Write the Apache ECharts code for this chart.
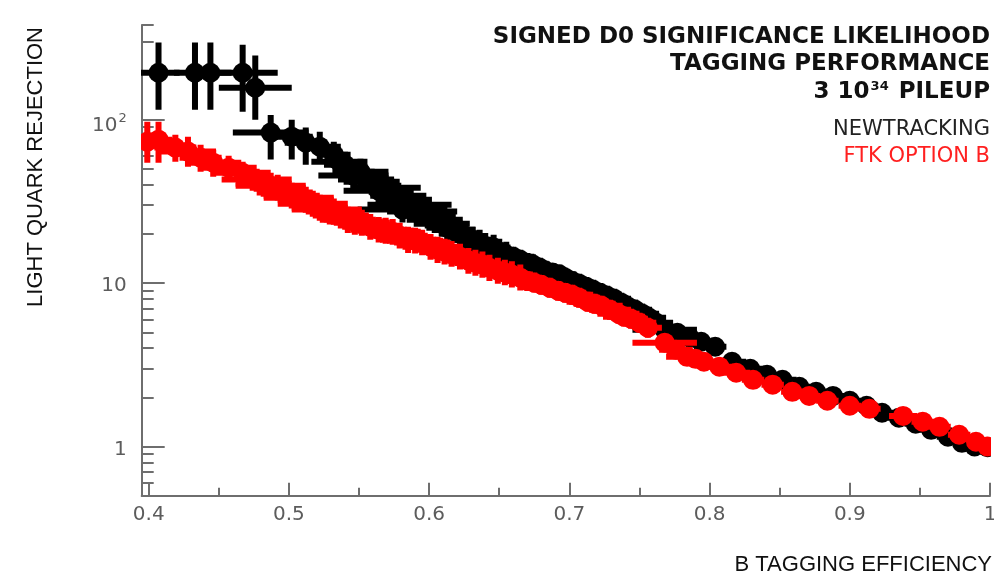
<!DOCTYPE html>
<html>
<head>
<meta charset="utf-8">
<script src="https://cdn.jsdelivr.net/npm/echarts/dist/echarts.min.js"></script>
<style>
html,body{margin:0;padding:0;background:#fff;}
#chart{width:994px;height:574px;}
</style>
</head>
<body>
<div id="chart"></div>
<script>
// ---- Data ----
// NEWTRACKING (black)
const blackEff = [0.407,0.433,0.444,0.467,0.476,0.487,0.502,0.512,0.522,0.532,0.536,0.540,0.546,0.551,0.555,0.559,0.564,0.569,0.573,0.578,0.581,0.582,0.586,0.591,0.595,0.599,0.604,0.609,0.613,0.618,0.622,0.626,0.631,0.636,0.640,0.646,0.650,0.655,0.660,0.665,0.670,0.674,0.679,0.683,0.688,0.693,0.697,0.702,0.707,0.712,0.717,0.722,0.727,0.732,0.737,0.742,0.747,0.752,0.757,0.762,0.768,0.777,0.786,0.794,0.804,0.816,0.829,0.841,0.852,0.864,0.876,0.888,0.900,0.912,0.923,0.935,0.947,0.958,0.970,0.980,0.989,0.998];
const blackRej = [194,194,194,194,157,83.4,78.8,72.4,68.4,61.1,55.4,53.1,45.5,48.1,43.0,41.8,36.8,38.4,36.3,34.3,28.2,32.4,30.2,28.9,27.4,25.9,24.4,23.1,21.8,21.2,20.1,19.0,18.4,17.7,16.9,16.5,15.6,14.9,14.5,13.9,13.3,13.0,12.4,11.9,11.6,11.3,10.8,10.3,9.92,9.51,9.11,8.73,8.37,8.03,7.59,7.17,6.87,6.50,6.14,5.72,5.18,4.97,4.63,4.38,4.08,3.30,2.99,2.75,2.56,2.32,2.16,2.04,1.905,1.775,1.61,1.50,1.38,1.265,1.147,1.053,1.0,0.99];
const blackEffErr = [0.015,0.015,0.015,0.025,0.026,0.027,0.015,0.015,0.015,0.012,0.02,0.015,0.025,0.02,0.02,0.02,0.025,0.025,0.015,0.02,0.032,0.02,0.03,0.02,0.025,0.02,0.02,0.02,0.015,0.015,0.015,0.015,0.015,0.015,0.012,0.012,0.012,0.012,0.015,0.012,0.012,0.012,0.012,0.012,0.012,0.012,0.01,0.012,0.012,0.012,0.012,0.012,0.01,0.012,0.012,0.012,0.012,0.012,0.012,0.012,0.023,0.012,0.01,0.01,0.008,0.01,0.012,0.01,0.01,0.008,0.008,0.008,0.008,0.008,0.008,0.008,0.008,0.008,0.008,0.006,0.006,0.004];
const blackRejLow = [115,115,115,112,100,57,57,53,55,50.9,46.2,44.2,37.9,40.1,35.8,34.8,30.7,32.0,30.3,28.6,23.5,27.0,25.2,24.1,22.8,21.6,20.3,19.3,18.2,17.7,16.8,15.8,15.3,14.8,14.1,13.8,13.0,12.4,12.6,12.1,11.6,11.3,10.8,10.3,10.1,9.83,9.39,8.96,8.63,8.27,7.92,7.59,7.28,6.98,6.60,6.23,5.97,5.65,5.34,4.97,4.76,4.57,4.32,4.05,3.80,3.08,2.79,2.56,2.39,2.16,2.01,1.90,1.80,1.68,1.52,1.42,1.31,1.20,1.08,0.996,0.94,0.945];
const blackRejHigh = [297,297,297,288,247,107,100,89.5,84.5,73.3,66.5,63.7,54.6,57.7,51.6,50.2,44.2,46.1,43.6,41.2,33.8,38.9,36.2,34.7,32.9,31.1,29.3,27.7,26.2,25.4,24.1,22.8,22.1,21.2,20.3,19.8,18.7,17.9,16.7,16.0,15.3,15.0,14.3,13.7,13.3,13.0,12.4,11.8,11.4,10.9,10.5,10.0,9.63,9.23,8.73,8.25,7.90,7.48,7.06,6.58,5.64,5.4,4.97,4.75,4.38,3.54,3.21,2.95,2.75,2.49,2.32,2.19,2.01,1.88,1.70,1.586,1.46,1.34,1.21,1.11,1.06,1.05];

// FTK OPTION B (red)
const redEff = [0.399,0.407,0.419,0.428,0.437,0.446,0.457,0.467,0.477,0.482,0.487,0.492,0.497,0.502,0.507,0.512,0.517,0.522,0.527,0.532,0.537,0.542,0.547,0.552,0.558,0.564,0.569,0.574,0.579,0.585,0.590,0.595,0.601,0.606,0.611,0.616,0.622,0.628,0.633,0.638,0.643,0.649,0.654,0.659,0.665,0.670,0.675,0.680,0.686,0.692,0.697,0.702,0.707,0.713,0.718,0.723,0.729,0.735,0.739,0.744,0.750,0.756,0.768,0.776,0.784,0.790,0.796,0.807,0.819,0.831,0.845,0.859,0.871,0.884,0.900,0.914,0.938,0.952,0.964,0.978,0.990,0.998];
const redRej = [73.4,75.5,67.5,63.8,58.6,54.6,50.9,47.4,43.0,40.6,39.5,38.4,35.8,34.3,33.3,32.4,30.6,28.9,28.2,27.4,25.9,24.4,23.8,23.4,22.1,21.2,20.9,20.6,19.5,18.4,18.2,17.7,16.7,16.0,15.6,15.1,14.5,13.7,13.3,13.0,12.4,11.9,11.6,11.3,10.8,10.3,10.06,9.78,9.37,8.98,8.73,8.49,8.14,7.69,7.48,7.27,6.87,6.50,6.23,6.05,5.72,5.33,4.32,3.91,3.54,3.44,3.30,3.08,2.83,2.56,2.39,2.16,2.04,1.905,1.775,1.70,1.54,1.42,1.32,1.18,1.07,1.0];
const redEffErr = [0.01,0.01,0.015,0.02,0.015,0.02,0.02,0.02,0.025,0.02,0.025,0.02,0.02,0.02,0.025,0.02,0.025,0.02,0.025,0.02,0.02,0.02,0.02,0.02,0.02,0.02,0.02,0.02,0.02,0.02,0.02,0.02,0.02,0.015,0.015,0.015,0.015,0.015,0.015,0.015,0.015,0.015,0.015,0.015,0.015,0.015,0.015,0.015,0.015,0.015,0.015,0.015,0.015,0.015,0.015,0.015,0.015,0.015,0.015,0.012,0.012,0.01,0.023,0.012,0.015,0.01,0.01,0.01,0.01,0.008,0.008,0.008,0.008,0.008,0.008,0.008,0.01,0.008,0.008,0.008,0.006,0.003];
const redRejLow = [54.6,54.6,55.4,51.6,48.1,44.8,41.8,39.5,36.3,33.8,32.9,32.0,29.8,28.6,27.8,27.0,25.5,24.1,23.5,22.8,21.6,20.3,19.8,19.5,18.4,17.7,17.4,17.2,16.3,15.3,15.2,14.8,13.9,13.3,13.0,12.6,12.1,11.4,11.1,10.8,10.3,9.9,9.7,9.4,9.0,8.96,8.75,8.50,8.15,7.81,7.59,7.38,7.08,6.69,6.50,6.32,5.97,5.65,5.42,5.26,4.97,4.63,4.02,3.62,3.30,3.2,3.08,2.87,2.63,2.39,2.26,2.04,1.93,1.80,1.68,1.61,1.46,1.34,1.25,1.11,1.01,0.94];
const redRejHigh = [97.3,97.3,81,78.8,70.4,65.6,60.3,55.4,50.2,48.7,47.4,46.1,43.0,41.2,40.0,38.9,36.7,34.7,33.8,32.9,31.1,29.3,28.6,28.1,26.5,25.4,25.1,24.7,23.4,22.1,21.8,21.2,20.0,19.2,18.7,18.1,17.4,16.4,16.0,15.6,14.9,14.3,13.9,13.6,13.0,11.8,11.6,11.2,10.8,10.3,10.0,9.76,9.36,8.84,8.60,8.36,7.90,7.48,7.16,6.96,6.58,6.13,4.63,4.2,3.80,3.7,3.54,3.30,3.03,2.75,2.53,2.29,2.16,2.01,1.88,1.80,1.63,1.50,1.397,1.25,1.13,1.06];

// Ticks
const xMajorTicks = [0.4,0.5,0.6,0.7,0.8,0.9,1];
const xMinorTicks = [0.45,0.55,0.65,0.75,0.85,0.95];
const yMajorTicks = [1,10,100];
const yMinorTicks = [0.6,0.7,0.8,0.9,2,3,4,5,6,7,8,9,20,30,40,50,60,70,80,90,200,300,380];

const seriesNames = ['NEWTRACKING','FTK OPTION B'];
const titleLines = ['SIGNED D0 SIGNIFICANCE LIKELIHOOD','TAGGING PERFORMANCE'];

// ---- Build ----
function buildData(eff, rej, effErr, lo, hi) {
  return eff.map((e, i) => [e, rej[i], e - effErr[i], e + effErr[i], lo[i], hi[i]]);
}
const axisColor = '#6e6e6e';
const labelColor = '#5c5c5c';

function renderItem(params, api) {
  const x = api.value(0), y = api.value(1);
  const c = api.coord([x, y]);
  const l = api.coord([api.value(2), y]);
  const r = api.coord([api.value(3), y]);
  const b = api.coord([x, api.value(4)]);
  const t = api.coord([x, api.value(5)]);
  const color = api.visual('color');
  return {
    type: 'group',
    children: [
      {type: 'line', shape: {x1: l[0], y1: c[1], x2: r[0], y2: c[1]}, style: {stroke: color, lineWidth: 6}},
      {type: 'line', shape: {x1: c[0], y1: t[1], x2: c[0], y2: b[1]}, style: {stroke: color, lineWidth: 6}},
      {type: 'circle', shape: {cx: c[0], cy: c[1], r: 10}, style: {fill: color}}
    ]
  };
}

const chart = echarts.init(document.getElementById('chart'), null, {renderer: 'canvas'});
const labelFont = 'DejaVu Sans';
const option = {
  animation: false,
  backgroundColor: '#ffffff',
  grid: {left: 141.7, right: 4, top: 25, bottom: 78.3, outerBoundsMode: 'none', containLabel: false},
  xAxis: [
    {
      type: 'value', min: 0.395, max: 1.0, position: 'bottom',
      axisLine: {show: true, lineStyle: {color: axisColor, width: 2}},
      axisTick: {show: true, inside: true, length: 13, customValues: xMajorTicks, lineStyle: {color: axisColor, width: 2}},
      axisLabel: {show: true, customValues: xMajorTicks, margin: 9, fontFamily: labelFont, fontSize: 20, color: labelColor,
        formatter: v => (Math.abs(v - 1) < 1e-9 ? '1' : (Math.round(v * 10) / 10).toFixed(1))},
      splitLine: {show: false}
    },
    {
      type: 'value', min: 0.395, max: 1.0, position: 'bottom',
      axisLine: {show: false},
      axisTick: {show: true, inside: true, length: 8, customValues: xMinorTicks, lineStyle: {color: axisColor, width: 2}},
      axisLabel: {show: false},
      splitLine: {show: false}
    }
  ],
  yAxis: [
    {
      type: 'log', logBase: 10, min: 0.5, max: 380, position: 'left',
      axisLine: {show: true, lineStyle: {color: axisColor, width: 2}},
      axisTick: {show: true, inside: true, length: 23, customValues: yMajorTicks, lineStyle: {color: axisColor, width: 2}},
      axisLabel: {show: true, customValues: yMajorTicks, margin: 15, fontFamily: labelFont, fontSize: 20, color: labelColor,
        formatter: v => (Math.abs(v - 100) < 1e-6 ? '{c|10}{s|2}' : '{b|' + String(Math.round(v)) + '}'),
        rich: {
          b: {fontFamily: labelFont, fontSize: 20, color: labelColor, padding: [6, 0, 0, 0]},
          c: {fontFamily: labelFont, fontSize: 20, color: labelColor, padding: [12, 0, 0, 0]},
          s: {fontFamily: labelFont, fontSize: 13, color: labelColor, verticalAlign: 'top', padding: [8, 0, 0, 1]}
        }},
      splitLine: {show: false}
    },
    {
      type: 'log', logBase: 10, min: 0.5, max: 380, position: 'left',
      axisLine: {show: false},
      axisTick: {show: true, inside: true, length: 12, customValues: yMinorTicks, lineStyle: {color: axisColor, width: 2}},
      axisLabel: {show: false},
      splitLine: {show: false}
    }
  ],
  series: [
    {
      name: seriesNames[0], type: 'custom', xAxisIndex: 0, yAxisIndex: 0, clip: true,
      itemStyle: {color: '#000000'},
      renderItem: renderItem,
      encode: {x: [0, 2, 3], y: [1, 4, 5]},
      data: buildData(blackEff, blackRej, blackEffErr, blackRejLow, blackRejHigh),
      z: 2
    },
    {
      name: seriesNames[1], type: 'custom', xAxisIndex: 0, yAxisIndex: 0, clip: true,
      itemStyle: {color: '#ff0000'},
      renderItem: renderItem,
      encode: {x: [0, 2, 3], y: [1, 4, 5]},
      data: buildData(redEff, redRej, redEffErr, redRejLow, redRejHigh),
      z: 3
    }
  ],
  graphic: [
    {type: 'text', x: 990, y: 37, style: {text: titleLines[0], font: 'bold 23px "DejaVu Sans"', fill: '#111', align: 'right', verticalAlign: 'middle', textAlign: 'right', textVerticalAlign: 'middle'}},
    {type: 'text', x: 990, y: 64, style: {text: titleLines[1], font: 'bold 23px "DejaVu Sans"', fill: '#111', align: 'right', verticalAlign: 'middle', textAlign: 'right', textVerticalAlign: 'middle'}},
    {type: 'text', x: 990, y: 92, style: {text: '3 10{s|34} PILEUP', font: 'bold 23px "DejaVu Sans"', fill: '#111', align: 'right', verticalAlign: 'middle', textAlign: 'right', textVerticalAlign: 'middle',
      rich: {s: {font: 'bold 13px "DejaVu Sans"', fill: '#111', verticalAlign: 'top', padding: [0, 2, 10, 1]}}}},
    {type: 'text', x: 990, y: 130, style: {text: seriesNames[0], font: '21px "DejaVu Sans"', fill: '#222', align: 'right', verticalAlign: 'middle', textAlign: 'right', textVerticalAlign: 'middle'}},
    {type: 'text', x: 990, y: 157, style: {text: seriesNames[1], font: '21px "DejaVu Sans"', fill: '#ff2020', align: 'right', verticalAlign: 'middle', textAlign: 'right', textVerticalAlign: 'middle'}},
    {type: 'text', x: 992, y: 565, style: {text: 'B TAGGING EFFICIENCY', font: '22px "Liberation Sans"', fill: '#111', align: 'right', verticalAlign: 'middle', textAlign: 'right', textVerticalAlign: 'middle'}},
    {type: 'text', x: 35.5, y: 27, rotation: Math.PI / 2, style: {text: 'LIGHT QUARK REJECTION', font: '22px "Liberation Sans"', fill: '#111', align: 'right', verticalAlign: 'middle', textAlign: 'right', textVerticalAlign: 'middle'}}
  ]
};
chart.setOption(option);
</script>
</body>
</html>
